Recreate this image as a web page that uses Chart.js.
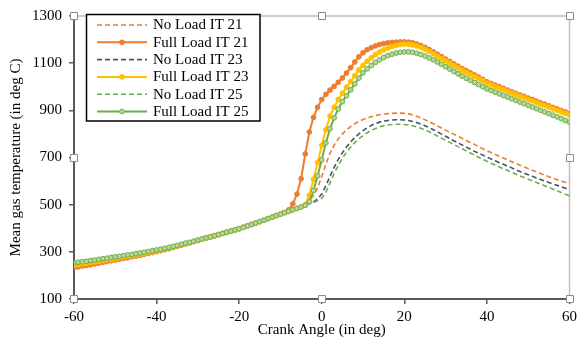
<!DOCTYPE html>
<html><head><meta charset="utf-8">
<script src="https://cdn.jsdelivr.net/npm/chart.js@4"></script>
<style>html,body{margin:0;padding:0;background:#fff;}#wrap{width:581px;height:345px;position:relative;}</style>
</head><body><div id="wrap"><canvas id="c" width="581" height="345"></canvas></div>
<script>
const seriesNames = ['No Load IT 21','Full Load IT 21','No Load IT 23','Full Load IT 23','No Load IT 25','Full Load IT 25'];
const xTicks = [-60,-40,-20,0,20,40,60];
const yTicks = [100,300,500,700,900,1100,1300];
const angles = [-60,-59,-58,-57,-56,-55,-54,-53,-52,-51,
-50,-49,-48,-47,-46,-45,-44,-43,-42,-41,
-40,-39,-38,-37,-36,-35,-34,-33,-32,-31,
-30,-29,-28,-27,-26,-25,-24,-23,-22,-21,
-20,-19,-18,-17,-16,-15,-14,-13,-12,-11,
-10,-9,-8,-7,-6,-5,-4,-3,-2,-1,
0,1,2,3,4,5,6,7,8,9,
10,11,12,13,14,15,16,17,18,19,
20,21,22,23,24,25,26,27,28,29,
30,31,32,33,34,35,36,37,38,39,
40,41,42,43,44,45,46,47,48,49,
50,51,52,53,54,55,56,57,58,59,
60];
const noLoad21 = [233,236,240,242,245,249,252,255,259,262,
265,269,272,275,279,282,285,290,293,297,
301,305,309,313,319,323,328,333,338,343,
348,354,359,363,368,373,378,383,388,393,
398,404,410,416,422,428,434,441,447,454,
460,466,472,478,484,492,503,518,540,572,
618,672,718,752,779,800,817,831,843,853,
861,868,873,878,881,884,886,887,888,888,
887,885,881,875,868,860,852,843,834,825,
816,807,799,790,781,772,764,755,746,737,
729,721,713,705,698,690,682,675,667,660,
653,646,639,632,625,618,612,606,600,595,
590];
const fullLoad21 = [233,236,240,242,245,249,252,255,259,262,
265,269,272,275,279,282,285,290,293,297,
301,305,309,313,319,323,328,333,338,343,
348,354,359,363,368,373,378,383,388,393,
398,404,410,416,422,428,434,441,447,454,
460,467,478,503,545,610,715,808,870,913,
946,968,986,1002,1019,1037,1058,1081,1105,1127,
1144,1157,1166,1173,1179,1183,1186,1188,1189,1190,
1190,1189,1186,1181,1175,1167,1158,1148,1138,1128,
1117,1107,1097,1087,1077,1068,1059,1050,1041,1031,
1021,1014,1007,1000,993,986,979,972,965,959,
952,946,939,932,926,919,912,906,899,893,
886];
const noLoad23 = [243,246,249,251,254,257,260,263,266,269,
272,275,278,281,284,287,290,294,297,301,
304,308,312,316,321,325,330,335,339,344,
349,354,359,363,368,373,378,383,388,393,
398,404,410,416,422,428,434,441,447,454,
460,466,472,478,484,491,497,504,512,524,
545,580,620,658,692,720,745,766,784,800,
814,826,836,844,850,854,857,859,860,860,
859,857,853,848,842,835,827,818,809,799,
790,780,771,762,753,744,735,726,718,710,
702,694,686,678,671,663,656,648,641,634,
627,620,613,607,600,594,588,582,576,570,
565];
const fullLoad23 = [243,246,249,251,254,257,260,263,266,269,
272,275,278,281,284,287,290,294,297,301,
304,308,312,316,321,325,330,335,339,344,
349,354,359,363,368,373,378,383,388,393,
398,404,410,416,422,428,434,441,447,454,
460,466,472,478,484,491,500,540,608,678,
752,818,875,913,946,973,998,1022,1047,1071,
1091,1108,1123,1136,1147,1156,1164,1170,1175,1179,
1181,1180,1177,1173,1167,1159,1150,1140,1130,1120,
1110,1100,1090,1080,1070,1061,1052,1043,1034,1025,
1015,1008,1001,994,987,980,973,966,959,953,
946,940,933,926,920,913,906,900,893,887,
880];
const noLoad25 = [253,256,258,260,263,265,268,271,273,276,
279,281,284,287,289,292,295,298,301,305,
308,311,315,319,323,327,332,337,340,345,
350,354,359,363,368,373,378,383,388,393,
398,404,410,416,422,428,434,441,447,454,
460,466,472,478,484,490,497,504,510,517,
527,552,592,632,667,697,722,744,763,779,
793,805,815,823,830,835,838,840,841,841,
840,838,835,830,824,817,809,800,791,782,
773,764,755,746,737,728,719,710,701,692,
684,676,668,660,652,645,637,630,622,615,
608,601,594,587,580,573,566,559,552,544,
537];
const fullLoad25 = [253,256,258,260,263,265,268,271,273,276,
279,281,284,287,289,292,295,298,301,305,
308,311,315,319,323,327,332,337,340,345,
350,354,359,363,368,373,378,383,388,393,
398,404,410,416,422,428,434,441,447,454,
460,466,472,478,484,490,497,512,560,622,
690,762,822,868,906,937,962,987,1012,1037,
1059,1076,1090,1103,1114,1124,1132,1138,1143,1146,
1148,1148,1146,1142,1137,1130,1122,1114,1105,1095,
1085,1075,1065,1055,1045,1036,1027,1018,1009,1000,
991,984,977,970,963,956,949,942,935,928,
921,914,907,900,893,886,879,872,865,857,
850];

const seriesValues = [noLoad21, fullLoad21, noLoad23, fullLoad23, noLoad25, fullLoad25];
const colors = ['#ED7D31','#ED7D31','#44546A','#FFC000','#70AD47','#70AD47'];
const FONT = 'Liberation Serif, "Times New Roman", serif';

const datasets = seriesValues.map((vals, i) => {
  const full = i % 2 === 1;
  return {
    label: seriesNames[i],
    data: vals.map((v, k) => ({x: angles[k], y: v})),
    borderColor: colors[i],
    backgroundColor: colors[i],
    borderWidth: full ? 2 : 1.6,
    borderDash: full ? [] : [5, 3],
    pointRadius: full ? 2.4 : 0,
    pointBorderWidth: 1,
    pointBorderColor: colors[i],
    pointBackgroundColor: i === 5 ? '#b4d79c' : colors[i],
    tension: 0,
    fill: false,
    order: 5 - i
  };
});

const frame = {
  id: 'frame',
  beforeDatasetsDraw(chart) {
    const {ctx, chartArea: a} = chart;
    ctx.save();
    ctx.strokeStyle = '#bfbfbf'; ctx.lineWidth = 1.5;
    ctx.beginPath(); ctx.moveTo(a.left, a.top); ctx.lineTo(a.right, a.top); ctx.lineTo(a.right, a.bottom); ctx.stroke();
    ctx.restore();
  },
  afterDraw(chart) {
    const {ctx, chartArea: a} = chart;
    ctx.save();
    const L = {x: 86.5, y: 14.5, w: 173.5, h: 106.5};
    ctx.fillStyle = '#fff'; ctx.fillRect(L.x, L.y, L.w, L.h);
    ctx.strokeStyle = '#000'; ctx.lineWidth = 1.5; ctx.strokeRect(L.x, L.y, L.w, L.h);
    ctx.font = '15px ' + FONT; ctx.textBaseline = 'middle'; ctx.textAlign = 'left';
    chart.data.datasets.forEach((ds, i) => {
      const cy = 25 + i * 17.3;
      ctx.strokeStyle = ds.borderColor; ctx.lineWidth = ds.borderWidth;
      ctx.setLineDash(ds.borderDash);
      ctx.beginPath(); ctx.moveTo(97, cy); ctx.lineTo(147, cy); ctx.stroke();
      ctx.setLineDash([]);
      if (ds.pointRadius > 0) {
        ctx.beginPath(); ctx.arc(122, cy, ds.pointRadius, 0, Math.PI * 2);
        ctx.fillStyle = ds.pointBackgroundColor; ctx.fill();
        ctx.lineWidth = 1; ctx.strokeStyle = ds.pointBorderColor; ctx.stroke();
      }
      ctx.fillStyle = '#000';
      ctx.fillText(ds.label, 153, cy + 0.5);
    });
    const mx = (a.left + a.right) / 2, my = (a.top + a.bottom) / 2;
    const pts = [[a.left,a.top],[mx,a.top],[a.right,a.top],[a.right,my],[a.right,a.bottom],[mx,a.bottom],[a.left,a.bottom],[a.left,my]];
    ctx.lineWidth = 1; ctx.strokeStyle = '#8c8c8c'; ctx.fillStyle = '#fff';
    pts.forEach(([x, y]) => {
      ctx.beginPath(); ctx.rect(Math.round(x) - 3.5, Math.round(y) - 3.5, 7, 7); ctx.fill(); ctx.stroke();
    });
    ctx.restore();
  }
};

new Chart(document.getElementById('c'), {
  type: 'line',
  data: {datasets},
  options: {
    responsive: false, animation: false, devicePixelRatio: 1,
    layout: {padding: {top: 13, right: 10, left: 0, bottom: 0}},
    plugins: {legend: {display: false}, tooltip: {enabled: false}},
    scales: {
      x: {
        type: 'linear', min: -60, max: 60,
        afterBuildTicks: s => { s.ticks = xTicks.map(v => ({value: v})); },
        afterFit: s => { s.height = 46; },
        ticks: {font: {family: FONT, size: 15}, color: '#000', padding: 4, maxRotation: 0, autoSkip: false, callback: v => String(v)},
        grid: {display: true, drawOnChartArea: false, drawTicks: true, tickLength: 5, color: '#595959', lineWidth: 1.5},
        border: {display: true, color: '#595959', width: 2},
        title: {display: true, text: 'Crank Angle (in deg)', font: {family: FONT, size: 15}, color: '#000', padding: {top: 0, bottom: 6}}
      },
      y: {
        min: 100, max: 1300,
        afterBuildTicks: s => { s.ticks = yTicks.map(v => ({value: v})); },
        afterFit: s => { s.width = 74; },
        ticks: {font: {family: FONT, size: 15}, color: '#000', padding: 7, callback: v => String(v)},
        grid: {display: true, drawOnChartArea: false, drawTicks: true, tickLength: 5, color: '#595959', lineWidth: 1.5},
        border: {display: true, color: '#595959', width: 2},
        title: {display: true, text: 'Mean gas temperature (in deg C)', font: {family: FONT, size: 15}, color: '#000', padding: {top: 7, bottom: 0}}
      }
    }
  },
  plugins: [frame]
});
</script>
</body></html>
